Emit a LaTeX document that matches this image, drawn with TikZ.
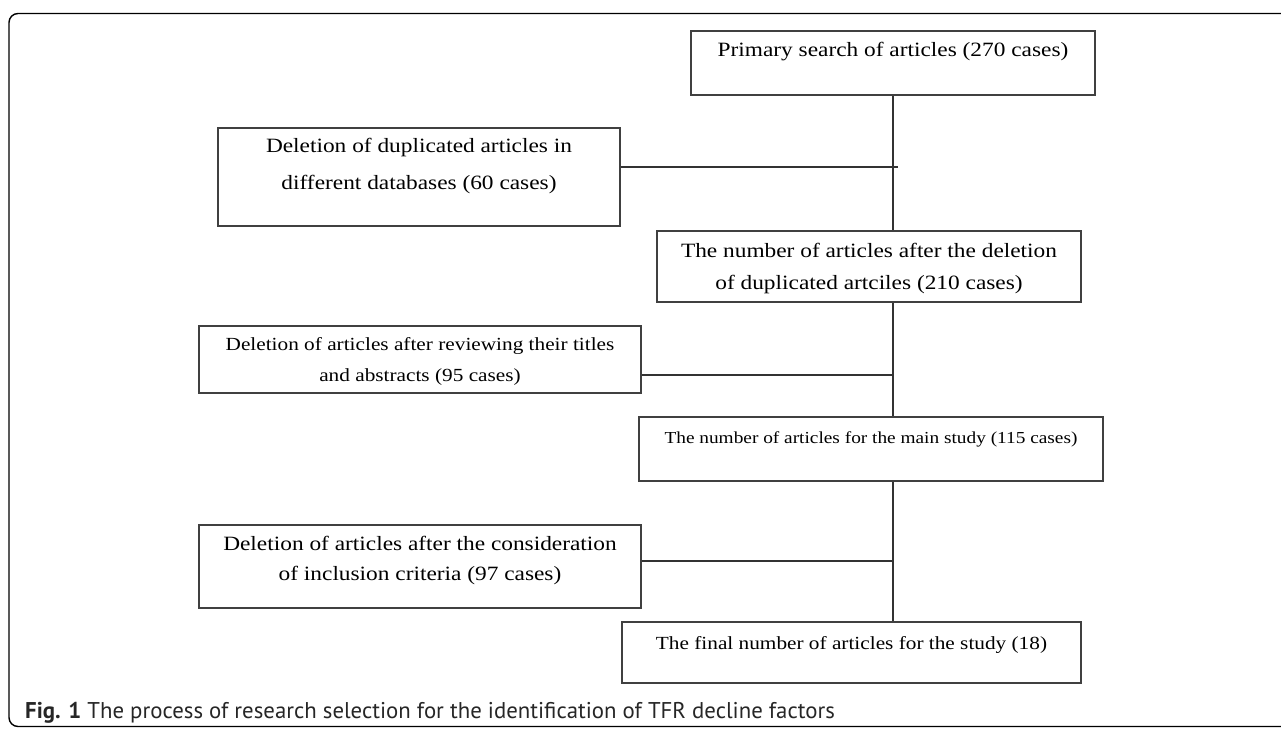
\documentclass[tikz,border=0pt]{standalone}
\usepackage{fontspec}
\setmainfont{Liberation Serif}
\newfontfamily\boxfont[FakeStretch=1.15]{Liberation Serif}
\newfontfamily\capfont{PT Sans}
\begin{document}
\begin{tikzpicture}[x=1pt, y=-1pt,
    box/.style={draw=black!75, line width=1.1pt, inner sep=0pt, align=center},
    big/.style={font=\boxfont\fontsize{20.3}{#1}\selectfont},
    small/.style={font=\boxfont\fontsize{18.5}{#1}\selectfont},
    link/.style={draw=black!80, line width=1.1pt}]
    \useasboundingbox (0,0) rectangle (1281,728);
    % outer frame
    \draw[line width=1.4pt, rounded corners=9pt] (1300,726.5) -- (9,726.5) -- (9,13.5) -- (1300,13.5);

    \node[box, big=37, minimum width=404pt, minimum height=64pt, text height=14pt, text depth=28pt]
        (prim) at (893,63) {Primary search of articles (270 cases)};
    \node[box, big=37, minimum width=402pt, minimum height=98pt, text height=51pt, text depth=26pt]
        (dup) at (419,177) {Deletion of duplicated articles in\\different databases (60 cases)};
    \node[box, big=32, minimum width=424pt, minimum height=71pt, text height=46pt, text depth=1pt]
        (after) at (869,266.5) {The number of articles after the deletion\\of duplicated artciles (210 cases)};
    \node[box, small=31, minimum width=442pt, minimum height=67pt, text height=44pt, text depth=1pt]
        (review) at (420,359.5) {Deletion of articles after reviewing their titles\\and abstracts (95 cases)};
    \node[box, font=\boxfont\fontsize{16.8}{30}\selectfont, minimum width=464pt, minimum height=64pt,
        text height=12pt, text depth=24pt]
        (main) at (871,449) {The number of articles for the main study (115 cases)};
    \node[box, big=30, minimum width=442pt, minimum height=83pt, text height=44pt, text depth=17pt]
        (incl) at (420,566.5) {Deletion of articles after the consideration\\of inclusion criteria (97 cases)};
    \node[box, small=30, minimum width=459pt, minimum height=61pt, text height=13pt, text depth=20pt]
        (final) at (851.5,652.5) {The final number of articles for the study (18)};

    % trunk and side branches
    \coordinate (j1) at (898,167);
    \coordinate (j2) at (892,375);
    \coordinate (j3) at (892,561);
    \draw[link] (prim.south) -- (prim.south |- after.north);
    \draw[link] (prim.south |- after.south) -- (prim.south |- main.north);
    \draw[link] (prim.south |- main.south) -- (prim.south |- final.north);
    \draw[link] (dup.east |- j1) -- (j1);
    \draw[link] (review.east |- j2) -- (j2);
    \draw[link] (incl.east |- j3) -- (j3);

    \node[anchor=base west, inner sep=0pt, text=black!85, font=\capfont\fontsize{22.8}{26}\selectfont]
        (cap) at (25,718) {\textbf{Fig. 1} The process of research selection for the identification of TFR decline factors};
\end{tikzpicture}
\end{document}
